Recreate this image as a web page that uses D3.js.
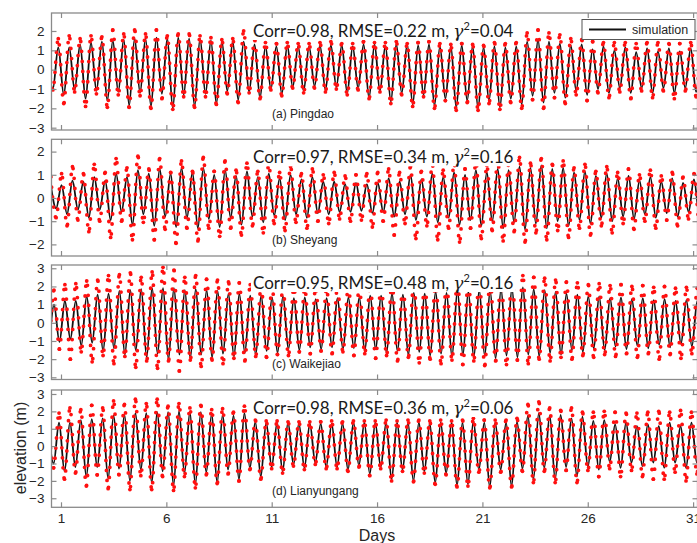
<!DOCTYPE html>
<html>
<head>
<meta charset="utf-8">
<script src="https://cdn.jsdelivr.net/npm/d3@7"></script>
<style>
  body { margin: 0; background: #fff; }
  svg { display: block; }
</style>
</head>
<body>
<div id="chart"></div>
<script>
// semidiurnal period in days; extremes alternate high / low every half period
var period = 0.5175;
var dayTicks = [1, 6, 11, 16, 21, 26, 31];

var stationNames = ["(a) Pingdao", "(b) Sheyang", "(c) Waikejiao", "(d) Lianyungang"];
var corrValues = ["0.98", "0.97", "0.95", "0.98"];
var rmseValues = ["0.22", "0.34", "0.48", "0.36"];
var gammaValues = ["0.04", "0.16", "0.16", "0.06"];
var firstHighDay = [0.354, 0.51, 0.15, 0.39];
var yLimits = [[-3.12, 2.93], [-2.5, 2.53], [-3.12, 3.18], [-3.52, 3.23]];
var yTickValues = [[-3, -2, -1, 0, 1, 2], [-2, -1, 0, 1, 2], [-3, -2, -1, 0, 1, 2, 3], [-3, -2, -1, 0, 1, 2, 3]];

// (a) Pingdao
var simHighA = [1.0, 1.15, 1.15, 1.3, 1.4, 1.45, 1.5, 1.55, 1.6, 1.6, 1.65, 1.6, 1.65, 1.6, 1.6, 1.5, 1.45, 1.45, 1.45, 1.3, 1.2, 1.2, 1.25, 1.2, 1.2, 1.25, 1.25, 1.25, 1.2, 1.3, 1.3, 1.25, 1.3, 1.3, 1.25, 1.3, 1.2, 1.2, 1.25, 1.2, 1.15, 1.2, 1.15, 1.2, 1.45, 1.55, 1.45, 1.35, 1.25, 1.3, 1.05, 1.2, 1.0, 1.15, 0.9, 1.1, 0.95, 1.1, 0.95, 1.1, 0.95];
var simLowA = [-1.0, -1.3, -1.05, -1.5, -1.1, -1.6, -1.15, -1.85, -1.2, -1.9, -1.25, -2.0, -1.3, -1.9, -1.25, -1.75, -1.1, -1.55, -1.15, -1.45, -1.0, -1.25, -0.9, -1.1, -0.85, -1.05, -0.9, -1.2, -0.95, -1.45, -1.1, -1.65, -1.2, -1.8, -1.3, -1.85, -1.5, -1.95, -1.6, -2.0, -1.6, -1.95, -1.5, -1.8, -1.35, -1.7, -1.2, -1.45, -1.1, -1.3, -1.0, -1.2, -0.95, -1.2, -0.95, -1.2, -0.95, -1.2, -0.95, -1.15, -0.95];
var obsHighA = [1.1, 1.6, 1.75, 1.6, 1.75, 1.7, 2.05, 1.85, 2.05, 1.85, 2.05, 1.75, 1.85, 1.85, 1.75, 1.65, 1.55, 1.6, 2.0, 1.55, 1.4, 1.35, 1.4, 1.35, 1.35, 1.4, 1.45, 1.35, 1.35, 1.45, 1.4, 1.4, 1.45, 1.35, 1.4, 1.45, 1.35, 1.3, 1.35, 1.3, 1.25, 1.4, 1.35, 1.4, 1.9, 2.05, 1.9, 1.8, 1.6, 1.55, 1.45, 1.4, 1.4, 1.4, 1.35, 1.4, 1.4, 1.35, 1.35, 1.4, 1.3];
var obsLowA = [-1.05, -1.75, -1.15, -1.9, -1.25, -1.95, -1.3, -1.95, -1.35, -2.0, -1.5, -2.05, -1.4, -1.95, -1.4, -1.8, -1.25, -1.7, -1.2, -1.5, -1.05, -1.35, -0.95, -1.2, -0.95, -1.15, -1.0, -1.3, -1.05, -1.5, -1.15, -1.75, -1.3, -1.9, -1.4, -2.0, -1.6, -2.1, -1.7, -2.1, -1.75, -2.05, -1.7, -2.0, -1.55, -2.0, -1.45, -1.75, -1.3, -1.6, -1.2, -1.45, -1.15, -1.5, -1.1, -1.45, -1.1, -1.5, -1.1, -1.4, -1.1];

// (b) Sheyang
var simHighB = [0.6, 0.55, 0.75, 0.7, 0.9, 0.75, 1.05, 0.9, 1.2, 1.05, 1.25, 1.05, 1.3, 1.1, 1.3, 1.0, 1.2, 0.95, 1.15, 0.9, 1.05, 0.85, 1.0, 0.8, 0.9, 0.7, 0.7, 0.6, 0.65, 0.6, 0.65, 0.85, 0.7, 1.0, 0.8, 1.05, 0.9, 1.1, 1.0, 1.2, 1.1, 1.25, 1.2, 1.35, 1.3, 1.4, 1.25, 1.3, 1.1, 1.15, 0.95, 1.05, 0.85, 0.95, 0.75, 0.9, 0.7, 0.85, 0.65, 0.8, 0.6];
var simLowB = [-0.45, -0.7, -0.5, -0.85, -0.5, -0.95, -0.6, -1.15, -0.7, -1.2, -0.8, -1.25, -0.85, -1.3, -0.9, -1.25, -0.85, -1.15, -0.8, -1.05, -0.75, -0.95, -0.7, -0.85, -0.65, -0.7, -0.6, -0.6, -0.55, -0.65, -0.6, -0.8, -0.7, -0.95, -0.8, -1.05, -0.85, -1.15, -0.95, -1.2, -1.0, -1.3, -1.05, -1.35, -1.1, -1.3, -1.0, -1.2, -0.95, -1.1, -0.85, -1.0, -0.8, -0.9, -0.7, -0.85, -0.65, -0.8, -0.6, -0.75, -0.6];
var obsHighB = [0.9, 1.05, 1.35, 1.05, 1.45, 1.1, 1.7, 1.3, 1.8, 1.25, 1.7, 1.1, 1.6, 1.15, 1.75, 1.15, 1.6, 1.2, 1.5, 1.15, 1.45, 1.1, 1.35, 1.05, 1.25, 1.0, 1.1, 0.95, 1.0, 1.05, 1.1, 1.25, 1.1, 1.35, 1.15, 1.45, 1.2, 1.5, 1.25, 1.55, 1.4, 1.65, 1.45, 1.75, 1.5, 1.7, 1.45, 1.6, 1.3, 1.45, 1.15, 1.35, 1.1, 1.25, 1.0, 1.2, 0.95, 1.1, 0.9, 1.05, 0.85];
var obsLowB = [-0.85, -1.2, -0.95, -1.45, -1.0, -1.7, -1.0, -1.8, -1.05, -1.8, -1.35, -1.95, -1.3, -1.85, -1.3, -1.65, -1.3, -1.6, -1.2, -1.5, -1.1, -1.4, -1.05, -1.3, -1.0, -1.1, -0.9, -1.0, -0.95, -1.25, -1.0, -1.6, -1.1, -1.75, -1.2, -1.8, -1.3, -1.9, -1.3, -1.75, -1.4, -1.85, -1.45, -1.9, -1.5, -1.8, -1.4, -1.7, -1.3, -1.6, -1.2, -1.5, -1.1, -1.35, -1.0, -1.3, -0.95, -1.2, -0.9, -1.1, -0.9];

// (c) Waikejiao
var simHighC = [0.9, 1.0, 1.2, 1.2, 1.45, 1.55, 1.6, 1.75, 1.8, 1.85, 1.9, 1.9, 1.9, 1.8, 1.85, 1.8, 1.75, 1.6, 1.6, 1.5, 1.5, 1.4, 1.45, 1.35, 1.4, 1.3, 1.35, 1.35, 1.4, 1.4, 1.5, 1.5, 1.6, 1.55, 1.65, 1.6, 1.7, 1.65, 1.75, 1.7, 1.8, 1.75, 1.85, 1.9, 1.95, 1.85, 1.8, 1.7, 1.6, 1.55, 1.45, 1.45, 1.35, 1.4, 1.3, 1.35, 1.25, 1.3, 1.2, 1.25, 1.2];
var simLowC = [-0.8, -1.05, -0.9, -1.25, -1.1, -1.55, -1.4, -1.75, -1.5, -1.9, -1.7, -2.0, -1.75, -1.95, -1.75, -1.9, -1.7, -1.85, -1.65, -1.75, -1.55, -1.65, -1.45, -1.5, -1.35, -1.45, -1.35, -1.45, -1.4, -1.55, -1.45, -1.65, -1.55, -1.75, -1.6, -1.8, -1.7, -1.85, -1.75, -1.9, -1.8, -1.95, -1.8, -1.9, -1.75, -1.85, -1.65, -1.75, -1.5, -1.6, -1.4, -1.5, -1.3, -1.45, -1.25, -1.4, -1.2, -1.35, -1.15, -1.3, -1.2];
var obsHighC = [1.7, 1.8, 2.1, 2.15, 2.3, 2.35, 2.6, 2.65, 2.75, 2.5, 2.8, 3.05, 2.9, 2.5, 2.6, 2.4, 2.35, 2.25, 2.2, 2.1, 2.05, 2.0, 1.95, 1.95, 1.9, 1.95, 1.9, 2.0, 2.05, 2.0, 2.1, 2.15, 2.2, 2.1, 2.25, 2.2, 2.3, 2.25, 2.4, 2.35, 2.5, 2.45, 2.6, 2.65, 2.6, 2.5, 2.45, 2.35, 2.25, 2.2, 2.1, 2.15, 2.05, 2.1, 2.0, 2.05, 1.95, 2.0, 1.9, 1.95, 1.9];
var obsLowC = [-1.0, -1.45, -2.0, -1.6, -2.15, -1.8, -2.25, -1.85, -2.45, -2.1, -2.5, -2.1, -2.65, -2.05, -2.4, -2.05, -2.25, -1.95, -2.1, -1.85, -1.9, -1.75, -1.8, -1.6, -1.7, -1.55, -1.7, -1.6, -1.8, -1.7, -1.95, -1.8, -2.1, -1.9, -2.2, -2.0, -2.25, -2.05, -2.3, -2.1, -2.35, -2.1, -2.3, -2.05, -2.25, -2.0, -2.1, -1.9, -2.0, -1.8, -1.9, -1.75, -1.85, -1.7, -1.9, -1.7, -2.0, -1.75, -1.95, -1.7, -1.8];

// (d) Lianyungang
var simHighD = [1.2, 1.35, 1.35, 1.5, 1.55, 1.6, 1.75, 1.8, 1.9, 1.9, 1.95, 1.95, 2.0, 1.95, 1.95, 1.85, 1.8, 1.75, 1.9, 1.4, 1.35, 1.35, 1.35, 1.3, 1.3, 1.3, 1.3, 1.3, 1.35, 1.35, 1.35, 1.35, 1.35, 1.35, 1.35, 1.3, 1.35, 1.35, 1.35, 1.45, 1.35, 1.35, 1.35, 1.4, 1.75, 1.9, 1.75, 1.8, 1.6, 1.7, 1.45, 1.5, 1.25, 1.35, 1.15, 1.25, 1.15, 1.35, 1.15, 1.35, 1.2];
var simLowD = [-1.0, -1.45, -1.2, -1.75, -1.2, -1.85, -1.3, -2.0, -1.35, -2.1, -1.45, -2.25, -1.55, -2.2, -1.5, -2.1, -1.35, -1.9, -1.25, -1.75, -1.2, -1.45, -1.05, -1.25, -0.95, -1.2, -1.2, -1.35, -1.1, -1.6, -1.2, -1.9, -1.35, -2.0, -1.45, -2.1, -1.55, -2.25, -2.2, -1.35, -2.35, -1.35, -2.3, -1.3, -1.9, -1.25, -1.9, -1.2, -1.75, -1.2, -1.35, -0.9, -1.25, -0.95, -1.15, -0.95, -1.25, -0.95, -1.25, -0.95, -1.2];
var obsHighD = [1.6, 1.9, 2.2, 2.1, 2.35, 2.2, 2.6, 2.4, 2.7, 2.45, 2.7, 2.3, 2.45, 2.2, 2.35, 2.1, 2.15, 1.95, 2.3, 1.5, 1.45, 1.45, 1.4, 1.4, 1.4, 1.4, 1.45, 1.4, 1.45, 1.45, 1.45, 1.5, 1.45, 1.5, 1.5, 1.45, 1.5, 1.45, 1.5, 1.6, 1.5, 1.5, 1.5, 1.6, 2.4, 2.55, 2.2, 2.05, 2.2, 1.95, 1.95, 2.0, 1.95, 1.9, 1.9, 1.95, 2.0, 1.95, 2.05, 1.95, 1.9];
var obsLowD = [-1.25, -1.9, -1.55, -2.3, -1.65, -2.45, -1.65, -2.5, -1.7, -2.5, -1.75, -2.55, -1.75, -2.4, -1.65, -2.15, -1.6, -2.0, -1.35, -1.9, -1.3, -1.55, -1.15, -1.35, -1.05, -1.3, -1.3, -1.45, -1.2, -1.7, -1.3, -2.0, -1.45, -2.05, -1.55, -2.2, -1.65, -2.35, -2.3, -1.5, -2.4, -1.5, -2.35, -1.45, -2.1, -1.45, -2.1, -1.4, -2.1, -1.4, -1.75, -1.3, -1.75, -1.4, -1.75, -1.9, -1.9, -1.5, -2.0, -1.6, -1.6];

var simHigh = [simHighA, simHighB, simHighC, simHighD];
var simLow = [simLowA, simLowB, simLowC, simLowD];
var obsHigh = [obsHighA, obsHighB, obsHighC, obsHighD];
var obsLow = [obsLowA, obsLowB, obsLowC, obsLowD];

// ---- layout ----
var width = 697, height = 543;
var plotLeft = 51.5, plotRight = 697.5;
var panelTop = [13, 139.3, 265, 390];
var panelBottom = [130, 256, 379.5, 507.3];
var frameColor = "#8a8a8a";
var textColor = "#262626";

var svg = d3.select("#chart").append("svg")
    .attr("width", width)
    .attr("height", height)
    .style("font-family", "'Liberation Sans', Arial, sans-serif");

var x = d3.scaleLinear()
    .domain([1 + (plotLeft - 61) / 21.07, 1 + (plotRight - 61) / 21.07])
    .range([plotLeft, plotRight]);

function extremes(t0, highs, lows) {
    var pts = [];
    highs.forEach(function (h, k) {
        pts.push({ t: t0 + k * period, v: h });
        if (k < lows.length) pts.push({ t: t0 + (k + 0.5) * period, v: lows[k] });
    });
    return pts;
}

stationNames.forEach(function (name, p) {
    var top = panelTop[p], bottom = panelBottom[p];
    var y = d3.scaleLinear().domain(yLimits[p]).range([bottom, top]);

    var g = svg.append("g").attr("class", "panel");

    g.append("clipPath").attr("id", "clip" + p)
        .append("rect")
        .attr("x", plotLeft).attr("y", top)
        .attr("width", plotRight - plotLeft).attr("height", bottom - top);

    var line = d3.line()
        .x(function (d) { return x(d.t); })
        .y(function (d) { return y(d.v); })
        .curve(d3.curveMonotoneX);

    var sim = extremes(firstHighDay[p], simHigh[p], simLow[p]);
    var obs = extremes(firstHighDay[p], obsHigh[p], obsLow[p]);

    var plot = g.append("g").attr("clip-path", "url(#clip" + p + ")");

    plot.append("path")
        .attr("d", line(sim))
        .attr("fill", "none")
        .attr("stroke", "#111")
        .attr("stroke-width", 1.8);

    // observations: hourly dots along the observed curve
    plot.append("path")
        .attr("d", line(obs))
        .attr("fill", "none")
        .attr("stroke", "#ff1010")
        .attr("stroke-width", 3.8)
        .attr("stroke-linecap", "round")
        .attr("stroke-dasharray", "0 10");

    plot.selectAll(".obsPeak")
        .data(obs)
        .enter().append("circle")
        .attr("class", "obsPeak")
        .attr("cx", function (d) { return x(d.t); })
        .attr("cy", function (d) { return y(d.v); })
        .attr("r", 1.9)
        .attr("fill", "#ff1010");

    // frame
    g.append("rect")
        .attr("x", plotLeft).attr("y", top)
        .attr("width", plotRight - plotLeft).attr("height", bottom - top)
        .attr("fill", "none")
        .attr("stroke", frameColor)
        .attr("stroke-width", 1.3);

    var left = g.append("g")
        .attr("transform", "translate(" + plotLeft + ",0)")
        .call(d3.axisLeft(y).tickValues(yTickValues[p]).tickSize(-5).tickPadding(7).tickFormat(d3.format("d")));
    var right = g.append("g")
        .attr("transform", "translate(" + plotRight + ",0)")
        .call(d3.axisRight(y).tickValues(yTickValues[p]).tickSize(-5).tickFormat(""));
    var topAxis = g.append("g")
        .attr("transform", "translate(0," + top + ")")
        .call(d3.axisTop(x).tickValues(dayTicks).tickSize(-5).tickFormat(""));
    var bottomAxis = g.append("g")
        .attr("transform", "translate(0," + bottom + ")")
        .call(d3.axisBottom(x).tickValues(dayTicks).tickSize(-5).tickPadding(6)
            .tickFormat(p === 3 ? d3.format("d") : ""));

    [left, right, topAxis, bottomAxis].forEach(function (a) {
        a.select(".domain").remove();
        a.selectAll(".tick line").attr("stroke", frameColor).attr("stroke-width", 1.2);
        a.selectAll(".tick text")
            .attr("fill", textColor)
            .style("font-size", "13.5px")
            .style("font-family", "'Liberation Sans', Arial, sans-serif");
    });

    // station label
    g.append("text")
        .attr("x", 272)
        .attr("y", bottom - 12)
        .attr("fill", textColor)
        .style("font-size", "12px")
        .text(name);

    // statistics annotation
    var bg = g.append("rect").attr("fill", "#fff");
    var stat = g.append("text")
        .attr("x", 253)
        .attr("y", top + 24)
        .attr("fill", "#1a1a1a")
        .style("font-family", "Lato, 'Open Sans', sans-serif")
        .style("font-size", "17px");
    stat.append("tspan").text("Corr=" + corrValues[p] + ", RMSE=" + rmseValues[p] + " m, ");
    stat.append("tspan").style("font-style", "italic").style("font-family", "'DejaVu Serif', serif").text("\u03b3");
    stat.append("tspan").attr("dy", -7).style("font-size", "11px").text("2");
    stat.append("tspan").attr("dy", 7).text("=" + gammaValues[p]);
    var bb = stat.node().getBBox();
    bg.attr("x", bb.x - 2).attr("y", bb.y + 1).attr("width", bb.width + 4).attr("height", bb.height - 2);

    if (p === 0) {
        var lg = g.append("g");
        lg.append("rect")
            .attr("x", 582).attr("y", 19.5)
            .attr("width", 113).attr("height", 20)
            .attr("fill", "#fff")
            .attr("stroke", "#555")
            .attr("stroke-width", 1);
        lg.append("line")
            .attr("x1", 589).attr("x2", 626)
            .attr("y1", 29.5).attr("y2", 29.5)
            .attr("stroke", "#111").attr("stroke-width", 1.8);
        lg.append("text")
            .attr("x", 632).attr("y", 34)
            .attr("fill", textColor)
            .style("font-size", "12.5px")
            .text("simulation");
    }
});

svg.append("text")
    .attr("x", 377)
    .attr("y", 541)
    .attr("text-anchor", "middle")
    .attr("fill", textColor)
    .style("font-size", "16px")
    .text("Days");

svg.append("text")
    .attr("transform", "translate(26,448) rotate(-90)")
    .attr("text-anchor", "middle")
    .attr("fill", textColor)
    .style("font-size", "16px")
    .text("elevation (m)");
</script>
</body>
</html>
